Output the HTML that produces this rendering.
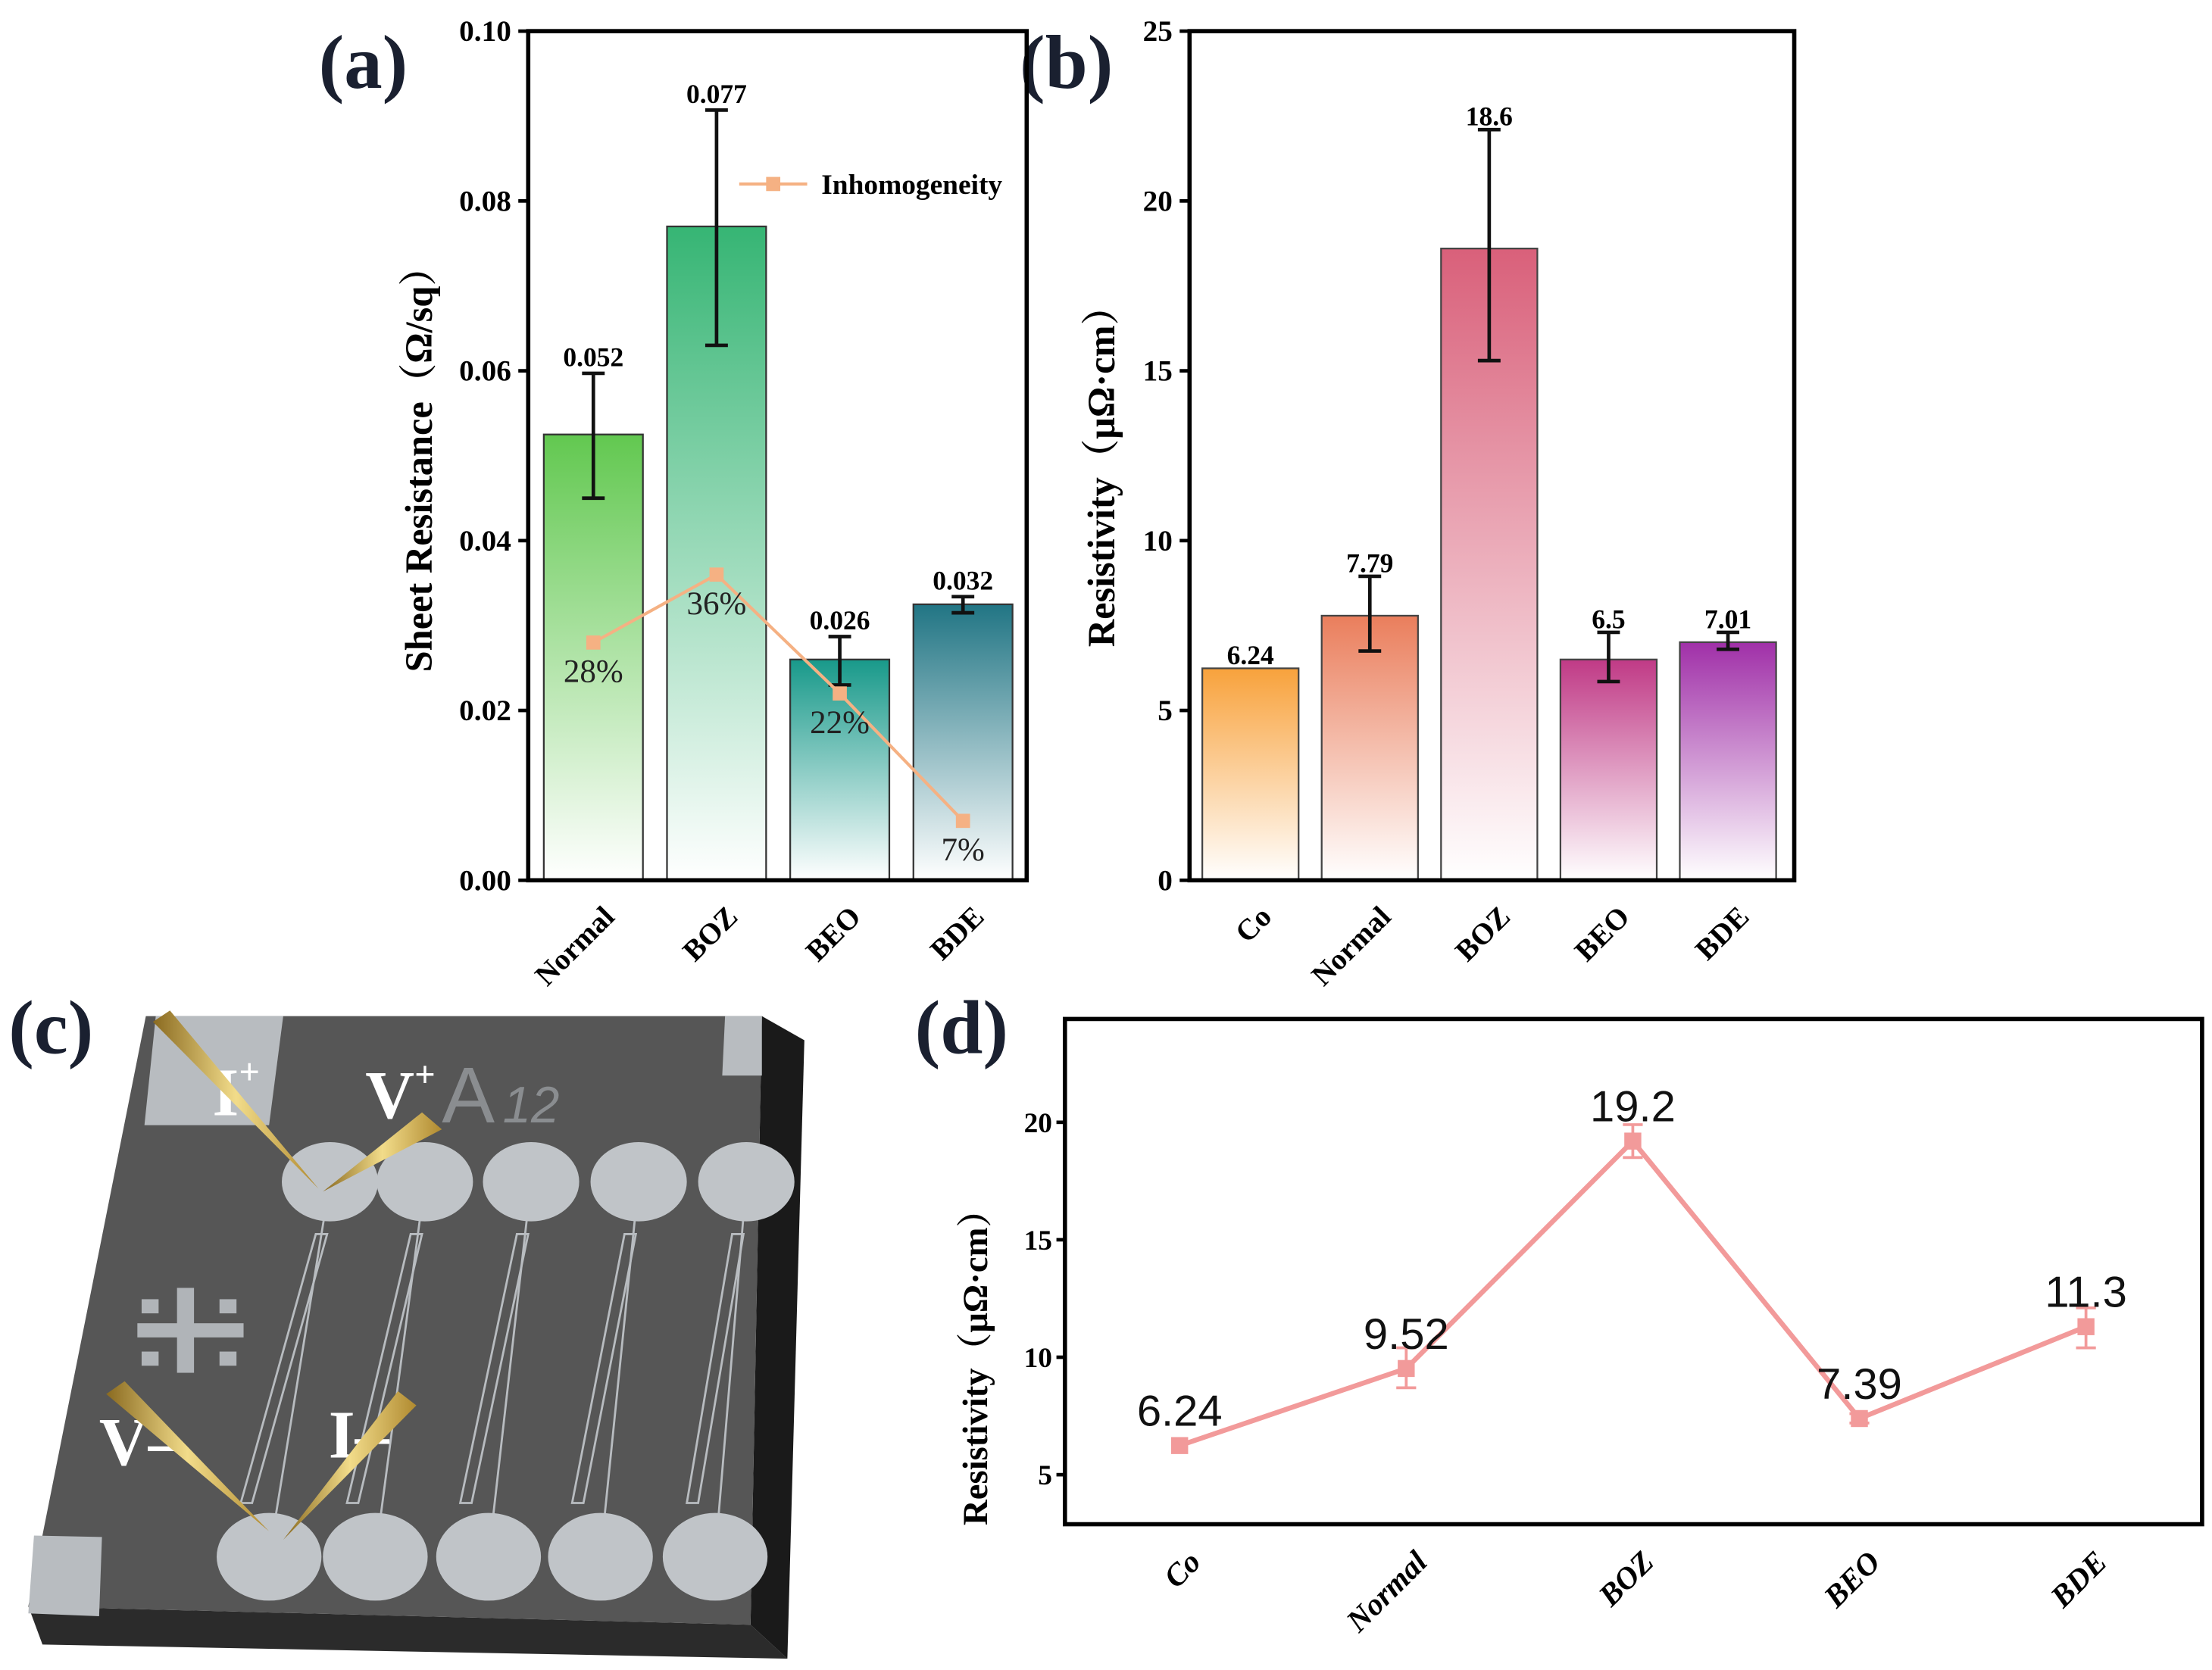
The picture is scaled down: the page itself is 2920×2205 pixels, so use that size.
<!DOCTYPE html>
<html><head><meta charset="utf-8"><style>
html,body{margin:0;padding:0;background:#fff;}
svg{display:block;}
.serif{font-family:"Liberation Serif","Noto Serif CJK SC",serif;}
</style></head><body>
<svg id="fig" width="2920" height="2205" viewBox="0 0 1562 1180" preserveAspectRatio="none" xmlns="http://www.w3.org/2000/svg">
<defs>
<linearGradient id="gA0" x1="0" y1="0" x2="0" y2="1"><stop offset="0" stop-color="#62c850"/><stop offset="1" stop-color="#ffffff"/></linearGradient>
<linearGradient id="gA1" x1="0" y1="0" x2="0" y2="1"><stop offset="0" stop-color="#36b574"/><stop offset="1" stop-color="#ffffff"/></linearGradient>
<linearGradient id="gA2" x1="0" y1="0" x2="0" y2="1"><stop offset="0" stop-color="#18998a"/><stop offset="1" stop-color="#ffffff"/></linearGradient>
<linearGradient id="gA3" x1="0" y1="0" x2="0" y2="1"><stop offset="0" stop-color="#217584"/><stop offset="1" stop-color="#ffffff"/></linearGradient>
<linearGradient id="gB0" x1="0" y1="0" x2="0" y2="1"><stop offset="0" stop-color="#f8a23c"/><stop offset="1" stop-color="#ffffff"/></linearGradient>
<linearGradient id="gB1" x1="0" y1="0" x2="0" y2="1"><stop offset="0" stop-color="#ea7e5c"/><stop offset="1" stop-color="#ffffff"/></linearGradient>
<linearGradient id="gB2" x1="0" y1="0" x2="0" y2="1"><stop offset="0" stop-color="#d9607a"/><stop offset="1" stop-color="#ffffff"/></linearGradient>
<linearGradient id="gB3" x1="0" y1="0" x2="0" y2="1"><stop offset="0" stop-color="#c03a86"/><stop offset="1" stop-color="#ffffff"/></linearGradient>
<linearGradient id="gB4" x1="0" y1="0" x2="0" y2="1"><stop offset="0" stop-color="#a030a8"/><stop offset="1" stop-color="#ffffff"/></linearGradient>
<linearGradient id="gold" x1="0" y1="0" x2="1" y2="0"><stop offset="0" stop-color="#8a6a20"/><stop offset="0.5" stop-color="#f2dc8a"/><stop offset="1" stop-color="#b08a30"/></linearGradient>
</defs>

<text class="serif" x="225" y="62" font-size="54" font-weight="bold" fill="#1a2030">(a)</text>
<text class="serif" x="720" y="62" font-size="54" font-weight="bold" fill="#1a2030">(b)</text>
<text class="serif" x="6" y="744" font-size="54" font-weight="bold" fill="#1a2030">(c)</text>
<text class="serif" x="646" y="744" font-size="54" font-weight="bold" fill="#1a2030">(d)</text>

<g id="chartA"></g>
<g id="chartB"></g>
<g id="chartD"></g>

<g id="panelC">
<polygon points="20,1135 530,1148 556,1172 30,1162" fill="#2b2b2b"/>
<polygon points="538,718 568,735 556,1172 530,1148" fill="#1a1a1a"/>
<polygon points="103,718 538,718 530,1148 20,1135" fill="#565656"/>
<polygon points="110,718 200,718 190,795 102,795" fill="#b8bcc0"/>
<polygon points="538,718 538,760 510,760 512,718" fill="#b8bcc0"/>
<polygon points="24,1085 72,1086 70,1142 20,1140" fill="#b8bcc0"/>
<text x="312" y="793" font-family="Liberation Sans,sans-serif" font-size="56" fill="#8a8d90">A</text>
<text x="355" y="793" font-family="Liberation Sans,sans-serif" font-size="36" font-style="italic" fill="#8a8d90">12</text>
<g fill="#b0b4b8"><rect x="97" y="935" width="75" height="10"/><rect x="125" y="910" width="12" height="60"/><rect x="100" y="918" width="12" height="10"/><rect x="155" y="918" width="12" height="10"/><rect x="100" y="955" width="12" height="10"/><rect x="155" y="955" width="12" height="10"/></g>
<g id="pads" stroke="#b8bcc0" fill="#c0c4c8"></g>
<text class="serif" x="150" y="788" font-size="48" font-weight="bold" fill="#fff">I<tspan font-size="26" dy="-22">+</tspan></text>
<text class="serif" x="258" y="790" font-size="48" font-weight="bold" fill="#fff">V<tspan font-size="26" dy="-22">+</tspan></text>
<text class="serif" x="70" y="1035" font-size="48" font-weight="bold" fill="#fff">V–</text>
<text class="serif" x="232" y="1030" font-size="48" font-weight="bold" fill="#fff">I–</text>
<polygon points="108,722 120,714 225,840" fill="url(#gold)"/>
<polygon points="298,786 312,798 228,842" fill="url(#gold)"/>
<polygon points="75,985 88,976 190,1082" fill="url(#gold)"/>
<polygon points="281,983 294,993 200,1088" fill="url(#gold)"/>
</g>
</svg>
<script>
const NS='http://www.w3.org/2000/svg';
function mk(parent,tag,attrs,text){const e=document.createElementNS(NS,tag);for(const k in attrs)e.setAttribute(k,attrs[k]);if(text!==undefined)e.textContent=text;parent.appendChild(e);return e;}

const catsA=['Normal','BOZ','BEO','BDE'];
const valsA=[0.0525,0.077,0.026,0.0325];
const labelsA=['0.052','0.077','0.026','0.032'];
const errLoA=[0.045,0.063,0.023,0.0315];
const errHiA=[0.0597,0.0907,0.0287,0.0334];
const inhomA=[28,36,22,7];
const inhomLabels=['28%','36%','22%','7%'];
const ticksA=[0,0.02,0.04,0.06,0.08,0.10];
const tickLabelsA=['0.00','0.02','0.04','0.06','0.08','0.10'];

const catsB=['Co','Normal','BOZ','BEO','BDE'];
const valsB=[6.24,7.79,18.6,6.5,7.01];
const labelsB=['6.24','7.79','18.6','6.5','7.01'];
const errLoB=[6.24,6.75,15.3,5.85,6.8];
const errHiB=[6.24,8.95,22.1,7.3,7.3];
const ticksB=[0,5,10,15,20,25];

const catsD=['Co','Normal','BOZ','BEO','BDE'];
const valsD=[6.24,9.52,19.2,7.39,11.3];
const labelsD=['6.24','9.52','19.2','7.39','11.3'];
const errLoD=[6.24,8.7,18.5,7.2,10.4];
const errHiD=[6.24,10.4,19.9,7.6,12.1];
const ticksD=[5,10,15,20];

const serif='"Liberation Serif","Noto Serif CJK SC",serif';

(function(){
const g=document.getElementById('chartA');
const L=373,R=725,T=22,B=622;
const y=v=>B-(v/0.1)*(B-T);
const x=i=>419+i*87;const bw=70;
catsA.forEach((c,i)=>{
 const r=mk(g,'rect',{x:x(i)-bw/2,y:y(valsA[i]),width:bw,height:B-y(valsA[i]),fill:`url(#gA${i})`,stroke:'#333','stroke-width':1.2});
 
 
 const eb=mk(g,'path',{d:`M${x(i)} ${y(errLoA[i])}V${y(errHiA[i])}M${x(i)-8} ${y(errLoA[i])}h16M${x(i)-8} ${y(errHiA[i])}h16`,stroke:'#111','stroke-width':2.5,fill:'none'});
 
 
 const t=mk(g,'text',{x:x(i),y:y(errHiA[i])-5,'text-anchor':'middle','font-family':serif,'font-size':19,'font-weight':'bold'},labelsA[i]);
 
 
 const xl=mk(g,'text',{x:0,y:0,'text-anchor':'end','font-family':serif,'font-size':21,'font-weight':'bold',transform:`translate(${x(i)+16},${B+27}) rotate(-45)`},c);
 
 
});
const pts=inhomA.map((p,i)=>[x(i),y(p/1000)]);
const ln=mk(g,'polyline',{points:pts.map(p=>p.join(',')).join(' '),fill:'none',stroke:'#f5b183','stroke-width':2.2});


pts.forEach((p,i)=>{
 const m=mk(g,'rect',{x:p[0]-5,y:p[1]-5,width:10,height:10,fill:'#f5b183'});
 
 
 const t=mk(g,'text',{x:p[0],y:p[1]+28,'text-anchor':'middle','font-family':serif,'font-size':23,fill:'#222'},inhomLabels[i]);
 
 
});
const fr=mk(g,'rect',{x:L,y:T,width:R-L,height:B-T,fill:'none',stroke:'#000','stroke-width':3});


ticksA.forEach((v,i)=>{
 mk(g,'line',{x1:L-7,x2:L,y1:y(v),y2:y(v),stroke:'#000','stroke-width':2.5});
 const t=mk(g,'text',{x:L-12,y:y(v)+7,'text-anchor':'end','font-family':serif,'font-size':21,'font-weight':'bold'},tickLabelsA[i]);
 
 
});
const yt=mk(g,'text',{x:0,y:0,'text-anchor':'middle','font-family':serif,'font-size':27,'font-weight':'bold',transform:`translate(305,325) rotate(-90)`},'Sheet Resistance（Ω/sq）');


const lg=mk(g,'g',{});


mk(lg,'line',{x1:522,x2:570,y1:130,y2:130,stroke:'#f5b183','stroke-width':2.2});
mk(lg,'rect',{x:541,y:125,width:10,height:10,fill:'#f5b183'});
mk(lg,'text',{x:580,y:137,'font-family':serif,'font-size':20,'font-weight':'bold'},'Inhomogeneity');
})();

(function(){
const g=document.getElementById('chartB');
const L=840,R=1267,T=22,B=622;
const y=v=>B-(v/25)*(B-T);
const x=i=>883+i*84.3;const bw=68;
catsB.forEach((c,i)=>{
 const r=mk(g,'rect',{x:x(i)-bw/2,y:y(valsB[i]),width:bw,height:B-y(valsB[i]),fill:`url(#gB${i})`,stroke:'#444','stroke-width':1.2});
 
 
 if(errHiB[i]>errLoB[i]){
 const eb=mk(g,'path',{d:`M${x(i)} ${y(errLoB[i])}V${y(errHiB[i])}M${x(i)-8} ${y(errLoB[i])}h16M${x(i)-8} ${y(errHiB[i])}h16`,stroke:'#111','stroke-width':2.5,fill:'none'});
 
 
 }
 const t=mk(g,'text',{x:x(i),y:y(Math.max(errHiB[i],valsB[i]))-3,'text-anchor':'middle','font-family':serif,'font-size':19,'font-weight':'bold'},labelsB[i]);
 
 
 const xl=mk(g,'text',{x:0,y:0,'text-anchor':'end','font-family':serif,'font-size':21,'font-weight':'bold',transform:`translate(${x(i)+16},${B+27}) rotate(-45)`},c);
 
 
});
const fr=mk(g,'rect',{x:L,y:T,width:R-L,height:B-T,fill:'none',stroke:'#000','stroke-width':3});


ticksB.forEach(v=>{
 mk(g,'line',{x1:L-7,x2:L,y1:y(v),y2:y(v),stroke:'#000','stroke-width':2.5});
 const t=mk(g,'text',{x:L-12,y:y(v)+7,'text-anchor':'end','font-family':serif,'font-size':21,'font-weight':'bold'},String(v));
 
 
});
const yt=mk(g,'text',{x:0,y:0,'text-anchor':'middle','font-family':serif,'font-size':27,'font-weight':'bold',transform:`translate(787,330) rotate(-90)`},'Resistivity（μΩ·cm）');


})();

(function(){
const g=document.getElementById('chartD');
const L=752,R=1555,T=720,B=1077;
const y=v=>1125-v*16.6;
const x=i=>833+i*160;
const col='#f29a9a';
const fr=mk(g,'rect',{x:L,y:T,width:R-L,height:B-T,fill:'none',stroke:'#000','stroke-width':3});


const ln=mk(g,'polyline',{points:valsD.map((v,i)=>x(i)+','+y(v)).join(' '),fill:'none',stroke:col,'stroke-width':3.5});


catsD.forEach((c,i)=>{
 if(errHiD[i]>errLoD[i]){
 const eb=mk(g,'path',{d:`M${x(i)} ${y(errLoD[i])}V${y(errHiD[i])}M${x(i)-7} ${y(errLoD[i])}h14M${x(i)-7} ${y(errHiD[i])}h14`,stroke:col,'stroke-width':2,fill:'none'});
 
 
 }
 const m=mk(g,'rect',{x:x(i)-6,y:y(valsD[i])-6,width:12,height:12,fill:col});
 
 
 const t=mk(g,'text',{x:x(i),y:y(valsD[i])-14,'text-anchor':'middle','font-family':'"Liberation Sans",sans-serif','font-size':31,fill:'#111'},labelsD[i]);
 
 
 const xl=mk(g,'text',{x:0,y:0,'text-anchor':'end','font-family':serif,'font-size':22,'font-weight':'bold','font-style':'italic',transform:`translate(${x(i)+16},${B+28}) rotate(-45)`},c);
 
 
});
ticksD.forEach(v=>{
 mk(g,'line',{x1:L-6,x2:L,y1:y(v),y2:y(v),stroke:'#000','stroke-width':2.5});
 const t=mk(g,'text',{x:L-9,y:y(v)+7,'text-anchor':'end','font-family':serif,'font-size':20,'font-weight':'bold'},String(v));
 
 
});
const yt=mk(g,'text',{x:0,y:0,'text-anchor':'middle','font-family':serif,'font-size':25,'font-weight':'bold',transform:`translate(697,960) rotate(-90)`},'Resistivity（μΩ·cm）');


})();

(function(){
const g=document.getElementById('pads');
const top=[233,300,375,451,527], bot=[190,265,345,424,505];
top.forEach((tx,i)=>{
 const bx=bot[i];
 mk(g,'line',{x1:tx,y1:835,x2:bx,y2:1100,'stroke-width':1.5});
 mk(g,'polygon',{points:`${tx-10},872 ${tx-2},872 ${bx-12},1062 ${bx-20},1062`,fill:'none','stroke-width':1.5});
 mk(g,'ellipse',{cx:tx,cy:835,rx:34,ry:28,stroke:'none'});
 mk(g,'ellipse',{cx:bx,cy:1100,rx:37,ry:31,stroke:'none'});
});
})();
</script>
</body></html>
